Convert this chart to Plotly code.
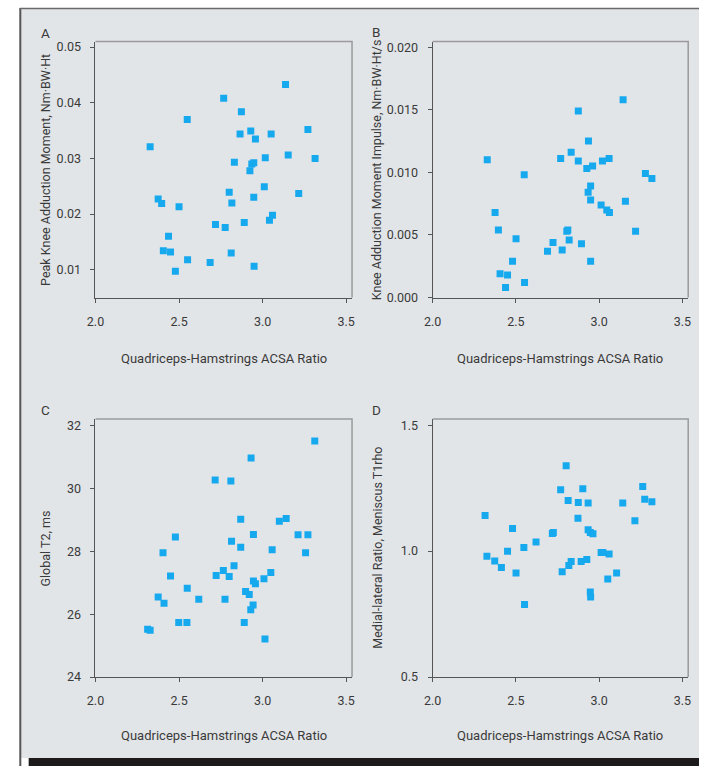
import plotly.graph_objects as go

# ---------------- data ----------------
a_x = [2.327, 2.549, 2.375, 2.396, 2.500, 2.437, 2.406, 2.449, 2.551, 2.478, 2.686, 2.718, 2.776,
       2.767, 2.800, 2.816, 2.812, 2.831, 2.873, 2.865, 2.890, 2.929, 2.957, 2.924, 2.935, 2.947,
       2.947, 2.949, 3.016, 3.010, 3.051, 3.041, 3.059, 3.137, 3.153, 3.216, 3.271, 3.314]
a_y = [0.0321, 0.0370, 0.0227, 0.0219, 0.0213, 0.0160, 0.0134, 0.0132, 0.0118, 0.0097, 0.0113,
       0.0181, 0.0176, 0.0408, 0.0239, 0.0220, 0.0130, 0.0293, 0.0384, 0.0344, 0.0185, 0.0349,
       0.0335, 0.0278, 0.0290, 0.0292, 0.0230, 0.0106, 0.0301, 0.0249, 0.0344, 0.0189, 0.0198,
       0.0433, 0.0306, 0.0237, 0.0352, 0.0300]

b_x = [2.328, 2.375, 2.395, 2.405, 2.450, 2.438, 2.480, 2.501, 2.550, 2.552, 2.690, 2.723, 2.778,
       2.769, 2.806, 2.812, 2.820, 2.832, 2.875, 2.875, 2.894, 2.926, 2.936, 2.934, 2.949, 2.949,
       2.949, 2.961, 3.012, 3.020, 3.046, 3.060, 3.062, 3.144, 3.158, 3.219, 3.278, 3.317]
b_y = [0.0110, 0.0068, 0.0054, 0.0019, 0.0018, 0.0008, 0.0029, 0.0047, 0.0098, 0.0012, 0.0037,
       0.0044, 0.0038, 0.0111, 0.0053, 0.0054, 0.0046, 0.0116, 0.0149, 0.0109, 0.0043, 0.0103,
       0.0125, 0.0084, 0.0089, 0.0078, 0.0029, 0.0105, 0.0074, 0.0109, 0.0070, 0.0111, 0.0068,
       0.0158, 0.0077, 0.0053, 0.0099, 0.0095]

c_x = [2.312, 2.327, 2.375, 2.410, 2.404, 2.449, 2.478, 2.498, 2.547, 2.549, 2.618, 2.716, 2.722,
       2.765, 2.775, 2.800, 2.810, 2.814, 2.829, 2.869, 2.869, 2.890, 2.898, 2.920, 2.931, 2.929,
       2.943, 2.945, 2.945, 2.957, 3.008, 3.014, 3.049, 3.057, 3.100, 3.141, 3.212, 3.271, 3.257,
       3.312]
c_y = [25.52, 25.49, 26.55, 26.35, 27.96, 27.22, 28.46, 25.74, 25.74, 26.83, 26.48, 30.27, 27.23,
       27.39, 26.48, 27.20, 30.24, 28.32, 27.54, 29.02, 28.13, 25.74, 26.72, 26.63, 30.97, 26.14,
       26.29, 28.54, 27.06, 26.97, 27.13, 25.21, 27.33, 28.05, 28.96, 29.05, 28.53, 28.53, 27.96,
       31.51]

d_x = [2.315, 2.326, 2.373, 2.413, 2.450, 2.480, 2.501, 2.548, 2.552, 2.621, 2.719, 2.725, 2.769,
       2.778, 2.802, 2.814, 2.818, 2.832, 2.875, 2.873, 2.892, 2.902, 2.926, 2.934, 2.934, 2.947,
       2.963, 2.947, 2.949, 3.012, 3.022, 3.060, 3.052, 3.105, 3.142, 3.215, 3.262, 3.274, 3.317]
d_y = [1.141, 0.980, 0.961, 0.935, 0.999, 1.090, 0.913, 1.014, 0.788, 1.036, 1.070, 1.074, 1.244,
       0.918, 1.339, 1.201, 0.943, 0.959, 1.193, 1.130, 0.959, 1.247, 0.967, 1.191, 1.085, 1.074,
       1.069, 0.838, 0.818, 0.994, 0.994, 0.988, 0.889, 0.913, 1.191, 1.120, 1.256, 1.206, 1.196]

x_ticks = [2.0, 2.5, 3.0, 3.5]
x_tick_labels = ["2.0", "2.5", "3.0", "3.5"]
a_ticks = [0.01, 0.02, 0.03, 0.04, 0.05]
a_tick_labels = ["0.01", "0.02", "0.03", "0.04", "0.05"]
b_ticks = [0.0, 0.005, 0.010, 0.015, 0.020]
b_tick_labels = ["0.000", "0.005", "0.010", "0.015", "0.020"]
c_ticks = [24, 26, 28, 30, 32]
c_tick_labels = ["24", "26", "28", "30", "32"]
d_ticks = [0.5, 1.0, 1.5]
d_tick_labels = ["0.5", "1.0", "1.5"]

x_title = "Quadriceps-Hamstrings ACSA Ratio"
y_titles = ["Peak Knee Adduction Moment, Nm·BW·Ht",
            "Knee Adduction Moment Impulse, Nm·BW·Ht/s",
            "Global T2, ms",
            "Medial-lateral Ratio, Meniscus T1rho"]
panel_letters = ["A", "B", "C", "D"]

# ---------------- layout helpers ----------------
W, H = 702, 773
FONT = "Roboto, Liberation Sans, sans-serif"
TXT = "#3a3a3a"
BLUE = "#17a9ee"
BG = "#e2e5e8"

def px(x):
    return x / W

def py(y):
    return 1 - y / H

# plot boxes in pixels: (left, right, top, bottom)
boxes = [(88, 349, 40, 299), (431, 691, 40, 299), (88, 349, 422, 683), (431, 691, 422, 683)]
ytitle_x = [37, 374, 37, 374]
letter_pos = [(37, 31), (373, 30), (37, 413), (374, 413)]
xtitle_y = [361, 361, 742, 742]
y_ranges = [[0.005, 0.051], [0.0, 0.02045], [24, 32.21], [0.5, 1.524]]
x_range = [2.0, 3.535]
data = [(a_x, a_y), (b_x, b_y), (c_x, c_y), (d_x, d_y)]
yticks = [(a_ticks, a_tick_labels), (b_ticks, b_tick_labels), (c_ticks, c_tick_labels), (d_ticks, d_tick_labels)]

fig = go.Figure()
layout = dict(
    width=W, height=H,
    margin=dict(l=0, r=0, t=0, b=0),
    paper_bgcolor="white",
    plot_bgcolor="white",
    showlegend=False,
    font=dict(family=FONT, color=TXT, size=12.5),
)
shapes = [
    # outer grey panel
    dict(type="rect", xref="paper", yref="paper", x0=px(11), x1=1, y0=py(765), y1=py(6),
         fillcolor=BG, line=dict(width=0), layer="below"),
    # frame lines (left and top)
    dict(type="line", xref="paper", yref="paper", x0=px(11.5), x1=px(11.5), y0=0, y1=py(6),
         line=dict(color="#555555", width=2), layer="below"),
    dict(type="line", xref="paper", yref="paper", x0=px(11), x1=1, y0=py(6.5), y1=py(6.5),
         line=dict(color="#6a6a6a", width=1.5), layer="below"),
    # black bottom band
    dict(type="rect", xref="paper", yref="paper", x0=px(20), x1=1, y0=0, y1=py(765),
         fillcolor="#1c1a1a", line=dict(width=0), layer="below"),
]
annotations = []

for i, ((xs, ys), (l, r, t, b)) in enumerate(zip(data, boxes)):
    n = "" if i == 0 else str(i + 1)
    fig.add_trace(go.Scatter(
        x=xs, y=ys, mode="markers", xaxis="x" + n, yaxis="y" + n,
        marker=dict(symbol="square", size=7, color=BLUE, line=dict(width=0)),
        hoverinfo="x+y",
    ))
    tv, tt = yticks[i]
    layout["xaxis" + n] = dict(
        domain=[px(l), px(r)], anchor="y" + n, range=x_range,
        tickvals=x_ticks, ticktext=x_tick_labels, ticks="outside", ticklen=4,
        tickcolor="#555", showline=True, linecolor="#555", linewidth=1,
        showgrid=False, zeroline=False, ticklabelstandoff=8,
        tickfont=dict(family=FONT, size=12.5, color=TXT),
    )
    layout["yaxis" + n] = dict(
        domain=[py(b), py(t)], anchor="x" + n, range=y_ranges[i],
        tickvals=tv, ticktext=tt, ticks="outside", ticklen=4,
        tickcolor="#555", showline=True, linecolor="#555", linewidth=1,
        showgrid=False, zeroline=False, ticklabelstandoff=7,
        tickfont=dict(family=FONT, size=12.5, color=TXT),
    )
    # light frame on top/right of plot box
    shapes.append(dict(type="path", xref="paper", yref="paper",
                       path=f"M {px(l)} {py(t)} L {px(r)} {py(t)} L {px(r)} {py(b)}",
                       line=dict(color="#9a9a9a", width=1.5), layer="above"))
    # x-axis title
    annotations.append(dict(xref="paper", yref="paper", x=px((l + r) / 2), y=py(xtitle_y[i]),
                            text=x_title, showarrow=False, xanchor="center", yanchor="middle",
                            font=dict(family=FONT, size=13, color=TXT)))
    # y-axis title
    annotations.append(dict(xref="paper", yref="paper", x=px(ytitle_x[i]), y=py((t + b) / 2),
                            text=y_titles[i], showarrow=False, textangle=-90,
                            xanchor="center", yanchor="middle",
                            font=dict(family=FONT, size=12.5, color=TXT)))
    # panel letter
    lx, ly = letter_pos[i]
    annotations.append(dict(xref="paper", yref="paper", x=px(lx), y=py(ly),
                            text=panel_letters[i], showarrow=False,
                            xanchor="center", yanchor="middle",
                            font=dict(family=FONT, size=13.5, color=TXT)))

layout["shapes"] = shapes
layout["annotations"] = annotations
fig.update_layout(**layout)
fig.write_html(
    "out.html",
    config={"displayModeBar": False},
    post_script="document.body.style.margin='0';document.body.style.overflow='hidden';",
)
